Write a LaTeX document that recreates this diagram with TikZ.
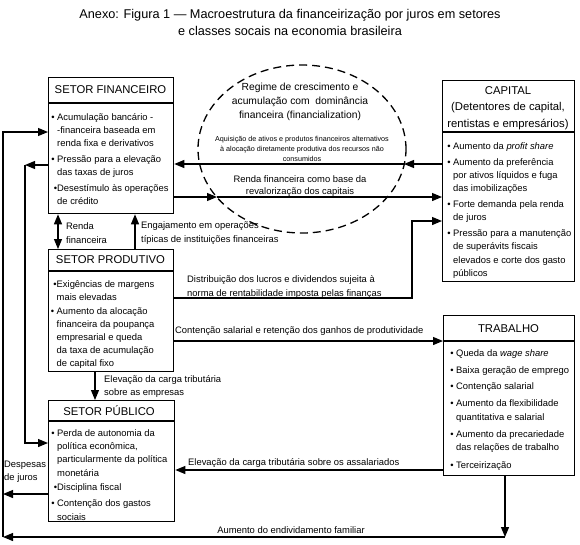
\documentclass[tikz,border=0pt]{standalone}
\usepackage{fontspec}
\setmainfont{Liberation Sans}
\usetikzlibrary{arrows.meta,shapes.geometric}

\newcommand\itemdot{\strut\llap{\textbullet\ }}
\newcommand\itemdotn{\strut\llap{\textbullet}}

\tikzset{
  box/.style={draw,line width=1.3pt,anchor=north west,inner sep=0pt},
  hdr/.style={font=\fontsize{11.3}{16.5}\selectfont,align=center,inner sep=0pt},
  itm/.style={anchor=north west,inner sep=0pt,align=left,font=\fontsize{9.4}{13.3}\selectfont},
  lbl/.style={inner sep=0pt,align=left,font=\fontsize{9.4}{13.5}\selectfont},
  con/.style={line width=1.15pt,-{Triangle[length=10pt,width=8pt]}},
}

\begin{document}
\begin{tikzpicture}[x=1pt,y=-1pt]
\useasboundingbox (0,0) rectangle (580,544);
%% title
\node[align=center,inner sep=0pt,font=\fontsize{12.7}{17}\selectfont] (title) at (290,22.5)
  {Anexo: Figura 1 — Macroestrutura da financeirização por juros em setores\\e classes socais na economia brasileira};

%% regime (dashed ellipse)
\node[ellipse,draw,line width=1.3pt,dash pattern=on 8pt off 5pt,minimum width=208pt,minimum height=168pt,inner sep=0pt] (regime) at (302,149) {};
\node[align=center,inner sep=0pt,font=\fontsize{10.3}{14}\selectfont] (regime-txt) at (300,102)
  {Regime de crescimento e\\acumulação com \ dominância\\financeira (financialization)};
\node[align=center,inner sep=0pt,font=\fontsize{7.2}{10}\selectfont] (aquis-txt) at (302,148.5)
  {Aquisição de ativos e produtos financeiros alternativos\\à alocação diretamente produtiva dos recursos não\\consumidos};
\node[align=center,inner sep=0pt,font=\fontsize{9.4}{12}\selectfont] (renda-txt) at (300,186.5)
  {Renda financeira como base da\\revalorização dos capitais};
\coordinate (eR) at (404,164);
\coordinate (eL) at (217,197);

%% setor financeiro
\node[box,minimum width=125pt,minimum height=136pt] (sf) at (48,77) {};
\draw[line width=1.3pt] (sf.west|-0,103) -- (sf.east|-0,103);
\node[hdr] (sf-h) at (110.5,90) {SETOR FINANCEIRO};
\node[itm] (sf-txt) at (57,110.5) {\itemdot Acumulação bancário -\\-financeira baseada em\\renda fixa e derivativos\\[2.5pt]
  \itemdot Pressão para a elevação\\das taxas de juros\\[2.5pt]\itemdotn Desestímulo às operações\\de crédito};

%% capital
\node[box,minimum width=132pt,minimum height=201pt] (cap) at (442,80) {};
\draw[line width=1.3pt] (cap.west|-0,132) -- (cap.east|-0,132);
\node[hdr] (cap-h) at (508,108) {CAPITAL\\(Detentores de capital,\\rentistas e empresários)};
\node[itm] (cap-txt) at (453,139.7) {\itemdot Aumento da \textit{profit share}\\[2.5pt]
  \itemdot Aumento da preferência\\por ativos líquidos e fuga\\das imobilizações\\[2.5pt]
  \itemdot Forte demanda pela renda\\de juros\\[2.5pt]
  \itemdot Pressão para a manutenção\\de superávits fiscais\\elevados e corte dos gasto\\públicos};

%% setor produtivo
\node[box,minimum width=125pt,minimum height=122pt] (sp) at (48,249) {};
\draw[line width=1.3pt] (sp.west|-0,271) -- (sp.east|-0,271);
\node[hdr] (sp-h) at (110.5,260) {SETOR PRODUTIVO};
\node[itm,font=\fontsize{9.4}{12.8}\selectfont] (sp-txt) at (56.5,278.2) {\itemdotn Exigências de margens\\mais elevadas\\[2pt]
  \itemdot Aumento da alocação\\financeira da poupança\\empresarial e queda\\da taxa de acumulação\\de capital fixo};

%% setor publico
\node[box,minimum width=126pt,minimum height=121pt] (spub) at (48,400) {};
\draw[line width=1.3pt] (spub.west|-0,421) -- (spub.east|-0,421);
\node[hdr] (spub-h) at (109,410.5) {SETOR PÚBLICO};
\node[itm] (spub-txt) at (57,426.7) {\itemdot Perda de autonomia da\\política econômica,\\particularmente da política\\monetária\\[1.5pt]
  \itemdotn Disciplina fiscal\\[2.5pt]\itemdot Contenção dos gastos\\sociais};

%% trabalho
\node[box,minimum width=131pt,minimum height=160pt] (trab) at (443,315) {};
\draw[line width=1.3pt] (trab.west|-0,341) -- (trab.east|-0,341);
\node[hdr] (trab-h) at (508.5,328.5) {TRABALHO};
\node[itm] (trab-txt) at (456,346.7) {\itemdot Queda da \textit{wage share}\\[3.5pt]
  \itemdot Baixa geração de emprego\\[3.5pt]\itemdot Contenção salarial\\[3.8pt]
  \itemdot Aumento da flexibilidade\\quantitativa e salarial\\[4pt]
  \itemdot Aumento da precariedade\\das relações de trabalho\\[4pt]\itemdot Terceirização};

%% connectors around the regime
\draw[con] (cap.west|-eR) -- (eR);
\draw[con] (eR) -- (sf.east|-eR);
\draw[con] (sf.east|-eL) -- (eL);
\draw[con] (eL) -- (cap.west|-eL);

%% between the sectors
\draw[con,{Triangle[length=10pt,width=8pt]}-{Triangle[length=10pt,width=8pt]}] (sf.south-|58,0) -- (sp.north-|58,0);
\node[lbl,anchor=west] (renda-lbl) at (66,233) {Renda\\financeira};
\draw[con] (sp.north-|135,0) -- (sf.south-|135,0);
\node[lbl,anchor=west] (engaj-lbl) at (141,233) {Engajamento em operações\\típicas de instituições financeiras};
\draw[con] (sp.east|-0,298) -- (412,298) |- (cap.west|-0,221);
\node[lbl,anchor=west] (dist-lbl) at (187,287) {Distribuição dos lucros e dividendos sujeita à\\norma de rentabilidade imposta pelas finanças};
\draw[con] (sp.east|-0,341) -- (trab.west|-0,341);
\node[lbl,anchor=west] (cont-lbl) at (175,331) {Contenção salarial e retenção dos ganhos de produtividade};
\draw[con] (sp.south-|95,0) -- (spub.north-|95,0);
\node[lbl,anchor=west] (trib-lbl) at (104,386.5) {Elevação da carga tributária\\sobre as empresas};
\draw[con] (trab.west|-0,470) -- (spub.east|-0,470);
\node[lbl,anchor=west] (assal-lbl) at (188,463) {Elevação da carga tributária sobre os assalariados};

%% left loops
\coordinate (c1) at (25,165);
\coordinate (c2) at (25,443);
\draw[con] (sf.west|-c1) -- (c1);
\draw[con] (c1) -- (c2) -- (spub.west|-c2);
\coordinate (endiv) at (505,537);
\coordinate (cantoA) at (3,537);
\coordinate (cantoB) at (3,132);
\draw[con] (spub.west|-0,494) -- (cantoA|-0,494);
\node[lbl,anchor=west] (desp-lbl) at (4,471.5) {Despesas\\de juros};
\draw[con] (trab.south-|endiv) -- (endiv);
\draw[con] (endiv) -- (cantoA);
\node[lbl,anchor=center] (endiv-lbl) at (291,530) {Aumento do endividamento familiar};
\draw[con] (cantoA) -- (cantoB) -- (sf.west|-cantoB);
\end{tikzpicture}
\end{document}
